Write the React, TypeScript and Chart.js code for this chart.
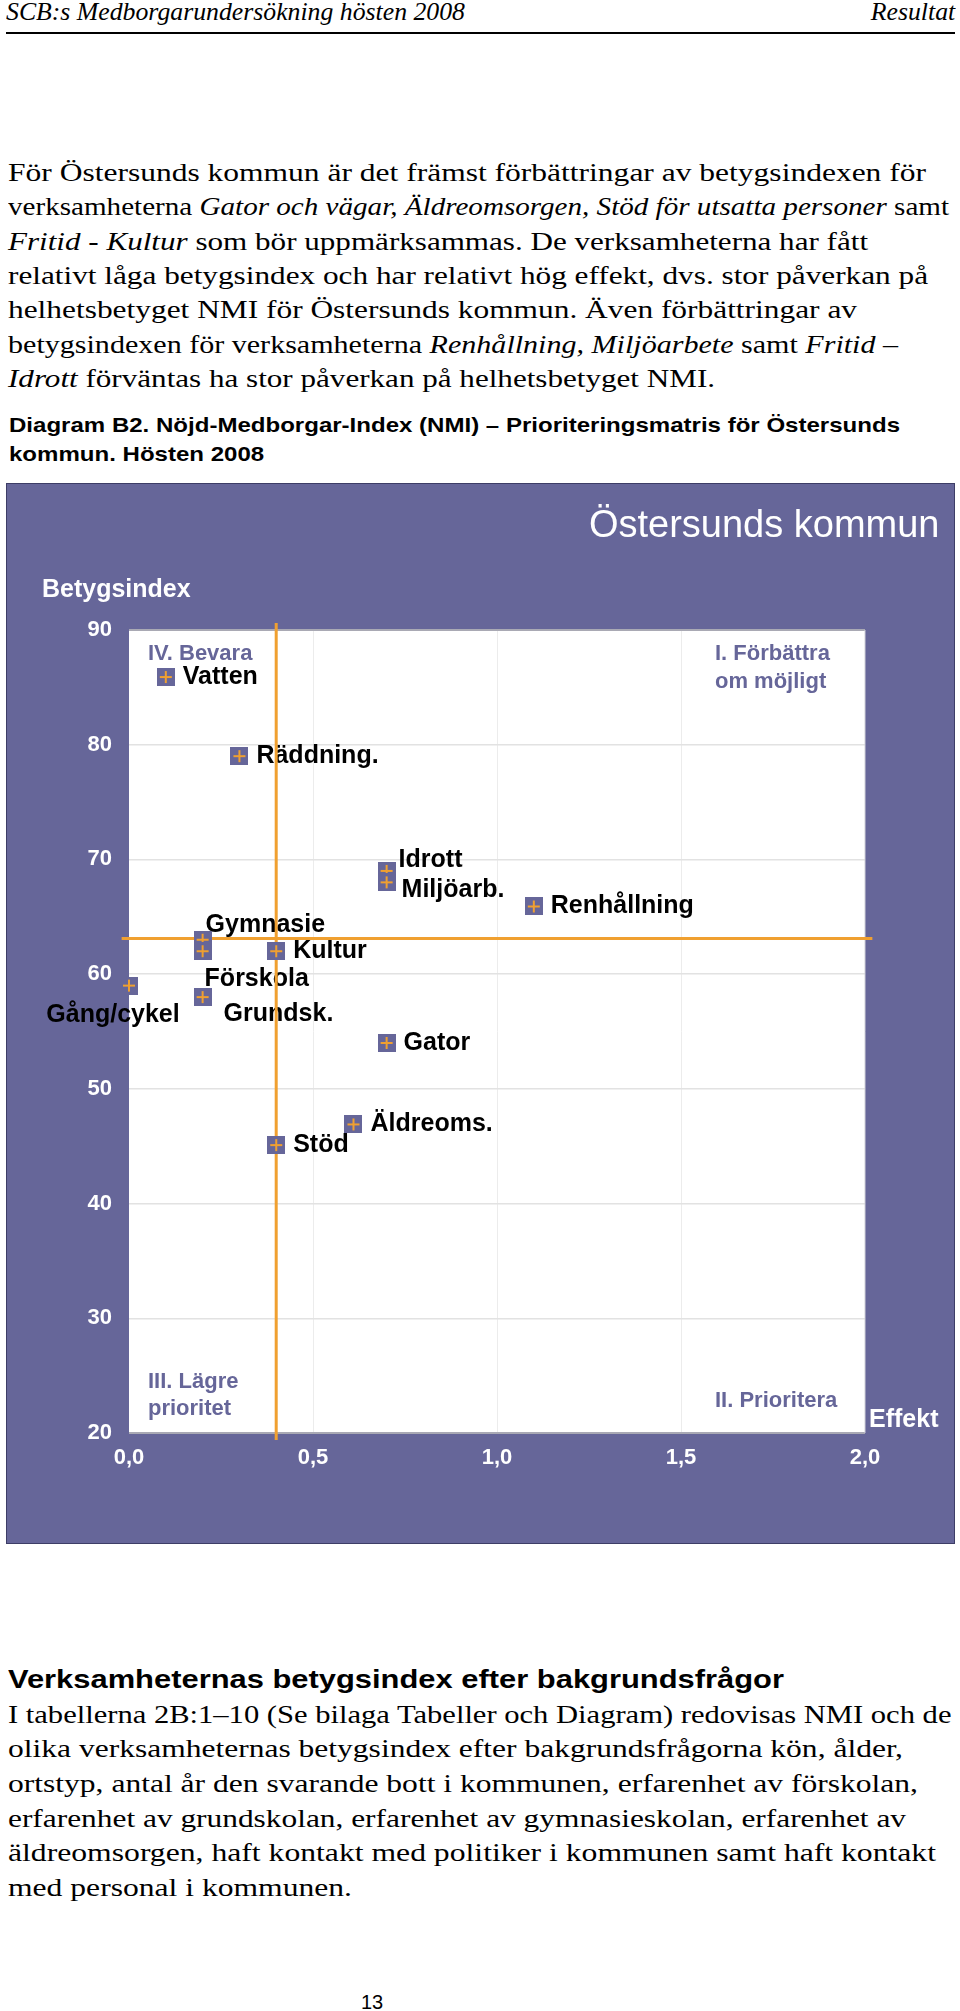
import React, { useEffect, useRef, useMemo } from "react";
import { Chart, registerables } from "chart.js";

Chart.register(...registerables);

// ---------- Data ----------
const activities = [
  "Vatten",
  "Räddning.",
  "Idrott",
  "Miljöarb.",
  "Renhållning",
  "Gymnasie",
  "Kultur",
  "Förskola",
  "Gång/cykel",
  "Grundsk.",
  "Gator",
  "Äldreoms.",
  "Stöd",
];
const effectValues = [0.1, 0.3, 0.7, 0.7, 1.1, 0.2, 0.4, 0.2, 0.0, 0.2, 0.7, 0.61, 0.4];
const indexValues = [85.9, 79.0, 69.0, 68.0, 65.9, 63.0, 62.0, 62.0, 59.0, 58.0, 54.0, 46.9, 45.1];

const meanEffect = 0.4;
const meanIndex = 63.1;
const meanLineIndexSpan = [19.4, 90.6];
const meanLineEffectSpan = [-0.02, 2.02];

const xTickLabels = ["0,0", "0,5", "1,0", "1,5", "2,0"];
const yAxisTitle = "Betygsindex";
const xAxisTitle = "Effekt";
const chartTitle = "Östersunds kommun";
const quadrantTopLeft = ["IV. Bevara"];
const quadrantTopRight = ["I. Förbättra", "om möjligt"];
const quadrantBottomLeft = ["III. Lägre", "prioritet"];
const quadrantBottomRight = ["II. Prioritera"];

// ---------- Styles ----------
const PURPLE = "#666699";
const ORANGE = "#F0A030";
const SANS = '"Liberation Sans", Arial, sans-serif';
const SERIF = '"Liberation Serif", "Times New Roman", serif';

const labelPlacement: Record<string, { dx: number; dy: number; align: CanvasTextAlign }> = {
  Idrott: { dx: 12, dy: -11, align: "left" },
  "Miljöarb.": { dx: 15, dy: 8, align: "left" },
  Gymnasie: { dx: 3, dy: -15, align: "left" },
  Förskola: { dx: 2, dy: 28, align: "left" },
  "Grundsk.": { dx: 21, dy: 17, align: "left" },
  "Gång/cykel": { dx: -16, dy: 29, align: "center" },
};
const defaultPlacement = { dx: 17, dy: 0, align: "left" as CanvasTextAlign };

type Seg = [string, boolean];
const para1: Seg[][] = [
  [["För Östersunds kommun är det främst förbättringar av betygsindexen för", false]],
  [
    ["verksamheterna ", false],
    ["Gator och vägar, Äldreomsorgen, Stöd för utsatta personer", true],
    [" samt", false],
  ],
  [
    ["Fritid - Kultur", true],
    [" som bör uppmärksammas. De verksamheterna har fått", false],
  ],
  [["relativt låga betygsindex och har relativt hög effekt, dvs. stor påverkan på", false]],
  [["helhetsbetyget NMI för Östersunds kommun. Även förbättringar av", false]],
  [
    ["betygsindexen för verksamheterna ", false],
    ["Renhållning, Miljöarbete", true],
    [" samt ", false],
    ["Fritid –", true],
  ],
  [
    ["Idrott", true],
    [" förväntas ha stor påverkan på helhetsbetyget NMI.", false],
  ],
];
const para1Widths = [918, 941, 860, 920, 849, 890, 707];
const captionLines = [
  "Diagram B2. Nöjd-Medborgar-Index (NMI) – Prioriteringsmatris för Östersunds",
  "kommun. Hösten 2008",
];
const heading2 = "Verksamheternas betygsindex efter bakgrundsfrågor";
const para2: Seg[][] = [
  [["I tabellerna 2B:1–10 (Se bilaga Tabeller och Diagram) redovisas NMI och de", false]],
  [["olika verksamheternas betygsindex efter bakgrundsfrågorna kön, ålder,", false]],
  [["ortstyp, antal år den svarande bott i kommunen, erfarenhet av förskolan,", false]],
  [["erfarenhet av grundskolan, erfarenhet av gymnasieskolan, erfarenhet av", false]],
  [["äldreomsorgen, haft kontakt med politiker i kommunen samt haft kontakt", false]],
  [["med personal i kommunen.", false]],
];
const para2Widths = [944, 895, 910, 898, 928, 344];
const headerLeft = "SCB:s Medborgarundersökning hösten 2008";
const headerRight = "Resultat";
const pageNumber = "13";

let measureCtx: CanvasRenderingContext2D | null = null;
function measure(text: string, font: string): number {
  if (!measureCtx) measureCtx = document.createElement("canvas").getContext("2d");
  if (!measureCtx) return 0;
  measureCtx.font = font;
  return measureCtx.measureText(text).width;
}
function fitScale(text: string, font: string, target: number): number {
  const w = measure(text, font);
  return w > 0 ? target / w : 1;
}

function makeMarker(): HTMLCanvasElement {
  const m = document.createElement("canvas");
  m.width = 18;
  m.height = 18;
  const g = m.getContext("2d")!;
  g.fillStyle = PURPLE;
  g.fillRect(0, 0, 18, 18);
  g.strokeStyle = ORANGE;
  g.lineWidth = 2;
  g.beginPath();
  g.moveTo(3, 9);
  g.lineTo(15, 9);
  g.moveTo(9, 3);
  g.lineTo(9, 15);
  g.stroke();
  return m;
}

const decorPlugin = {
  id: "decor",
  beforeDraw(chart: any) {
    const { ctx, chartArea: a, width, height } = chart;
    ctx.save();
    ctx.fillStyle = PURPLE;
    ctx.fillRect(0, 0, width, height);
    ctx.fillStyle = "#ffffff";
    ctx.fillRect(a.left, a.top, a.right - a.left, a.bottom - a.top);
    ctx.strokeStyle = "#3d3d66";
    ctx.lineWidth = 1;
    ctx.strokeRect(0.5, 0.5, width - 1, height - 1);
    ctx.restore();
  },
  beforeDatasetsDraw(chart: any) {
    const { ctx, chartArea: a } = chart;
    ctx.save();
    ctx.strokeStyle = "#a9a9b4";
    ctx.lineWidth = 2;
    ctx.beginPath();
    ctx.moveTo(a.left, a.top);
    ctx.lineTo(a.right, a.top);
    ctx.moveTo(a.left, a.bottom);
    ctx.lineTo(a.right, a.bottom);
    ctx.stroke();
    ctx.strokeStyle = "#d0d0d8";
    ctx.lineWidth = 1;
    ctx.beginPath();
    ctx.moveTo(a.right, a.top);
    ctx.lineTo(a.right, a.bottom);
    ctx.stroke();

    const meta = chart.getDatasetMeta(0);
    ctx.fillStyle = "#000000";
    ctx.font = `bold 25px ${SANS}`;
    ctx.textBaseline = "middle";
    meta.data.forEach((pt: any, i: number) => {
      const name = activities[i];
      const p = labelPlacement[name] || defaultPlacement;
      ctx.textAlign = p.align;
      ctx.fillText(name, pt.x + p.dx, pt.y + p.dy);
    });

    ctx.fillStyle = PURPLE;
    ctx.font = `bold 22px ${SANS}`;
    ctx.textAlign = "left";
    quadrantTopLeft.forEach((t, i) => ctx.fillText(t, a.left + 19, a.top + 24 + i * 28));
    quadrantTopRight.forEach((t, i) => ctx.fillText(t, a.right - 150, a.top + 24 + i * 28));
    quadrantBottomLeft.forEach((t, i) => ctx.fillText(t, a.left + 19, a.bottom - 51 + i * 27));
    quadrantBottomRight.forEach((t, i) => ctx.fillText(t, a.right - 150, a.bottom - 32 + i * 27));
    ctx.restore();
  },
  afterDraw(chart: any) {
    const { ctx, chartArea: a, width } = chart;
    ctx.save();
    ctx.fillStyle = "#ffffff";
    ctx.textBaseline = "middle";
    ctx.font = `38px ${SANS}`;
    ctx.textAlign = "right";
    ctx.fillText(chartTitle, width - 15.5, 44);
    ctx.font = `bold 25px ${SANS}`;
    ctx.textAlign = "left";
    ctx.fillText(yAxisTitle, 36, a.top - 40);
    ctx.fillText(xAxisTitle, a.right + 4, a.bottom - 13);
    ctx.restore();
  },
};

function FitLines({
  lines,
  widths,
  size,
  top,
  lineHeight,
}: {
  lines: Seg[][];
  widths: number[];
  size: number;
  top: number;
  lineHeight: number;
}) {
  return (
    <>
      {lines.map((line, i) => {
        const w = line.reduce(
          (s, [t, it]) => s + measure(t, `${it ? "italic " : ""}${size}px ${SERIF}`),
          0
        );
        const k = w > 0 ? widths[i] / w : 1;
        return (
          <div
            key={i}
            style={{
              position: "absolute",
              left: 8,
              top: top + i * lineHeight,
              whiteSpace: "pre",
              font: `${size}px ${SERIF}`,
              lineHeight: `${lineHeight}px`,
              transform: `scaleX(${k})`,
              transformOrigin: "left top",
            }}
          >
            {line.map(([t, it], j) => (it ? <i key={j}>{t}</i> : <span key={j}>{t}</span>))}
          </div>
        );
      })}
    </>
  );
}

export default function App() {
  const canvasRef = useRef<HTMLCanvasElement>(null);

  const scales = useMemo(() => {
    return {
      header: fitScale(headerLeft, `italic 26px ${SERIF}`, 459),
      cap: fitScale(captionLines[0], `bold 21px ${SANS}`, 891),
      h2: fitScale(heading2, `bold 25px ${SANS}`, 776),
    };
  }, []);

  useEffect(() => {
    if (!canvasRef.current) return;
    const marker = makeMarker();
    const points = effectValues.map((x, i) => ({ x, y: indexValues[i] }));
    const chart = new Chart(canvasRef.current, {
      type: "scatter",
      data: {
        datasets: [
          {
            label: "Verksamheter",
            data: points,
            pointStyle: marker as any,
            pointRadius: 9,
            clip: false as any,
            order: 0,
          },
          {
            label: "Medel index",
            data: [
              { x: meanLineEffectSpan[0], y: meanIndex },
              { x: meanLineEffectSpan[1], y: meanIndex },
            ],
            showLine: true,
            borderColor: ORANGE,
            borderWidth: 3,
            pointRadius: 0,
            clip: false as any,
            order: 1,
          },
          {
            label: "Medel effekt",
            data: [
              { x: meanEffect, y: meanLineIndexSpan[0] },
              { x: meanEffect, y: meanLineIndexSpan[1] },
            ],
            showLine: true,
            borderColor: ORANGE,
            borderWidth: 3,
            pointRadius: 0,
            clip: false as any,
            order: 1,
          },
        ],
      },
      options: {
        animation: false,
        responsive: false,
        maintainAspectRatio: false,
        events: [],
        layout: { padding: { top: 147, right: 90, bottom: 0, left: 0 } },
        plugins: {
          legend: { display: false },
          tooltip: { enabled: false },
          title: { display: false },
        },
        scales: {
          x: {
            type: "linear",
            min: 0,
            max: 2,
            ticks: {
              stepSize: 0.5,
              color: "#ffffff",
              font: { family: SANS, size: 22, weight: "bold" },
              padding: 12,
              callback: (_v: any, i: number) => xTickLabels[i] ?? "",
            },
            grid: {
              drawTicks: false,
              lineWidth: 1,
              color: (c: any) =>
                c.tick && (c.tick.value === 0 || c.tick.value === 2) ? "rgba(0,0,0,0)" : "#ececec",
            },
            border: { display: false },
            afterFit: (s: any) => {
              s.height = 111;
            },
          },
          y: {
            type: "linear",
            min: 20,
            max: 90,
            ticks: {
              stepSize: 10,
              color: "#ffffff",
              font: { family: SANS, size: 22, weight: "bold" },
              padding: 17,
            },
            grid: {
              drawTicks: false,
              lineWidth: 1.5,
              color: (c: any) =>
                c.tick && (c.tick.value === 20 || c.tick.value === 90) ? "rgba(0,0,0,0)" : "#e2e2e2",
            },
            border: { display: false },
            afterFit: (s: any) => {
              s.width = 123;
            },
          },
        },
      } as any,
      plugins: [decorPlugin],
    });
    return () => chart.destroy();
  }, []);

  const abs = (extra: React.CSSProperties): React.CSSProperties => ({
    position: "absolute",
    whiteSpace: "nowrap",
    margin: 0,
    ...extra,
  });

  return (
    <div
      style={{
        position: "fixed",
        left: 0,
        top: 0,
        width: 960,
        height: 2011,
        background: "#ffffff",
        overflow: "hidden",
        color: "#000",
      }}
    >
      {/* Header */}
      <div
        style={abs({
          left: 6,
          top: -3,
          font: `italic 26px ${SERIF}`,
          lineHeight: "30px",
          transform: `scaleX(${scales.header})`,
          transformOrigin: "left top",
        })}
      >
        {headerLeft}
      </div>
      <div
        style={abs({
          right: 5,
          top: -3,
          font: `italic 26px ${SERIF}`,
          lineHeight: "30px",
          transform: `scaleX(${scales.header})`,
          transformOrigin: "right top",
        })}
      >
        {headerRight}
      </div>
      <div style={abs({ left: 6, top: 32, width: 949, height: 2, background: "#000" })} />

      {/* Paragraph 1 */}
      <FitLines lines={para1} widths={para1Widths} size={26} top={155.8} lineHeight={34.4} />

      {/* Caption */}
      <div
        style={abs({
          left: 9,
          top: 411.4,
          font: `bold 21px ${SANS}`,
          lineHeight: "28.2px",
          transform: `scaleX(${scales.cap})`,
          transformOrigin: "left top",
        })}
      >
        {captionLines.map((l, i) => (
          <div key={i}>{l}</div>
        ))}
      </div>

      {/* Chart */}
      <canvas
        ref={canvasRef}
        width={949}
        height={1061}
        style={{ position: "absolute", left: 6, top: 483, width: 949, height: 1061 }}
      />

      {/* Heading 2 */}
      <div
        style={abs({
          left: 8,
          top: 1664,
          font: `bold 25px ${SANS}`,
          lineHeight: "30px",
          transform: `scaleX(${scales.h2})`,
          transformOrigin: "left top",
        })}
      >
        {heading2}
      </div>

      {/* Paragraph 2 */}
      <FitLines lines={para2} widths={para2Widths} size={26} top={1697.7} lineHeight={34.66} />

      {/* Page number */}
      <div
        style={abs({
          left: 372,
          top: 1990,
          font: `20px ${SANS}`,
          lineHeight: "24px",
          transform: "translateX(-50%)",
        })}
      >
        {pageNumber}
      </div>
    </div>
  );
}
